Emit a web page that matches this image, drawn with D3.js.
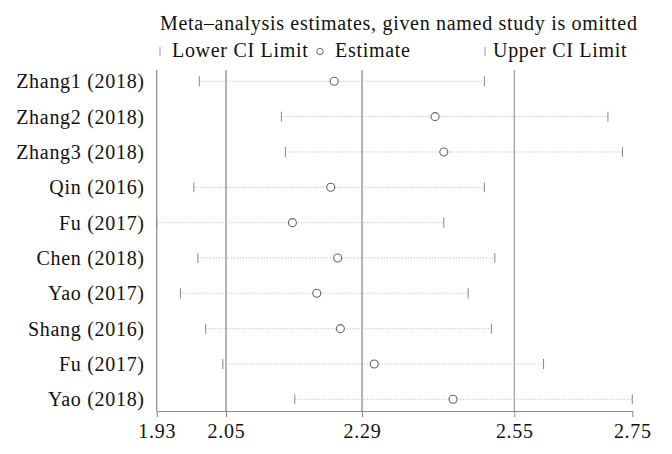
<!DOCTYPE html>
<html><head><meta charset="utf-8">
<script src="https://cdn.jsdelivr.net/npm/d3@7"></script>
<style>body{margin:0;background:#fff}svg{display:block}text{font-family:"Liberation Serif","DejaVu Serif",serif;fill:#111}</style>
</head><body>
<script>
const studies = ["Zhang1 (2018)","Zhang2 (2018)","Zhang3 (2018)","Qin (2016)","Fu (2017)","Chen (2018)","Yao (2017)","Shang (2016)","Fu (2017)","Yao (2018)"];
const lowerCI = [2.0035,2.145,2.152,1.994,1.930,2.001,1.971,2.0145,2.044,2.168];
const estimate = [2.236,2.410,2.425,2.230,2.164,2.242,2.206,2.2466,2.305,2.441];
const upperCI = [2.495,2.708,2.733,2.495,2.425,2.513,2.467,2.507,2.597,2.750];
const tickValues = [1.93,2.0495,2.284,2.5466,2.75];
const tickLabels = ["1.93","2.05","2.29","2.55","2.75"];
const refLines = [2.0495,2.284,2.5466];

const W=672,H=454;
const FS=20, LS="0.7px";
const svg=d3.select("body").append("svg").attr("width",W).attr("height",H);
const x=d3.scaleLinear().domain([1.93,2.75]).range([156.7,632.3]);
const y=d3.scalePoint().domain(d3.range(studies.length)).range([81.3,399.3]);
const plotTop=70,plotBottom=411;

// reference lines
svg.selectAll(".ref").data(refLines).join("line")
  .attr("x1",d=>x(d)).attr("x2",d=>x(d)).attr("y1",plotTop).attr("y2",plotBottom)
  .attr("stroke",(d,i)=>i===2?"#b0b0b0":"#777").attr("stroke-width",(d,i)=>i===2?1.6:1.1);

// axes
const xAxis=svg.append("g").attr("transform",`translate(0,${plotBottom})`)
  .call(d3.axisBottom(x).tickValues(tickValues).tickFormat((d,i)=>tickLabels[i]).tickSize(6).tickSizeOuter(0));
xAxis.select(".domain").attr("stroke","#888").attr("stroke-width",1.2);
xAxis.selectAll(".tick line").attr("stroke","#888");
xAxis.selectAll(".tick text").attr("font-size",FS).attr("letter-spacing",LS).attr("dy",0).attr("y",27).attr("fill","#111");

const yAxis=svg.append("g").attr("transform",`translate(${x(1.93)},0)`)
  .call(d3.axisLeft(y).tickFormat(i=>studies[i]).tickSize(0).tickPadding(12));
yAxis.select(".domain").attr("d",`M0,${plotTop}V${plotBottom}`).attr("stroke","#888").attr("stroke-width",1.2);
yAxis.selectAll(".tick text").attr("font-size",FS).attr("letter-spacing",LS).attr("fill","#111").attr("dy","0.32em");

// rows
const rows=d3.range(studies.length);
svg.selectAll(".ci").data(rows).join("line")
  .attr("x1",i=>x(lowerCI[i])).attr("x2",i=>x(upperCI[i])).attr("y1",i=>y(i)).attr("y2",i=>y(i))
  .attr("stroke","#aaa").attr("stroke-width",0.9).attr("stroke-dasharray","1,2");
svg.selectAll(".lc").data(rows).join("line")
  .attr("x1",i=>x(lowerCI[i])).attr("x2",i=>x(lowerCI[i])).attr("y1",i=>y(i)-5).attr("y2",i=>y(i)+5)
  .attr("stroke","#888").attr("stroke-width",1);
svg.selectAll(".uc").data(rows).join("line")
  .attr("x1",i=>x(upperCI[i])).attr("x2",i=>x(upperCI[i])).attr("y1",i=>y(i)-5).attr("y2",i=>y(i)+5)
  .attr("stroke","#888").attr("stroke-width",1);
svg.selectAll(".est").data(rows).join("circle")
  .attr("cx",i=>x(estimate[i])).attr("cy",i=>y(i)).attr("r",4)
  .attr("fill","#fff").attr("stroke","#666").attr("stroke-width",1.1);

// title and legend
const T=(xx,yy,s)=>svg.append("text").attr("x",xx).attr("y",yy).attr("font-size",FS).attr("letter-spacing",LS).text(s);
T(160,30,"Meta\u2013analysis estimates, given named study is omitted");
const ly=57;
svg.append("line").attr("x1",160).attr("x2",160).attr("y1",ly-10).attr("y2",ly-1).attr("stroke","#999");
T(172,ly,"Lower CI Limit");
svg.append("circle").attr("cx",320).attr("cy",ly-5.5).attr("r",3.2).attr("fill","#fff").attr("stroke","#666");
T(335,ly,"Estimate");
svg.append("line").attr("x1",485).attr("x2",485).attr("y1",ly-10).attr("y2",ly-1).attr("stroke","#999");
T(493,ly,"Upper CI Limit");
</script>
</body></html>
